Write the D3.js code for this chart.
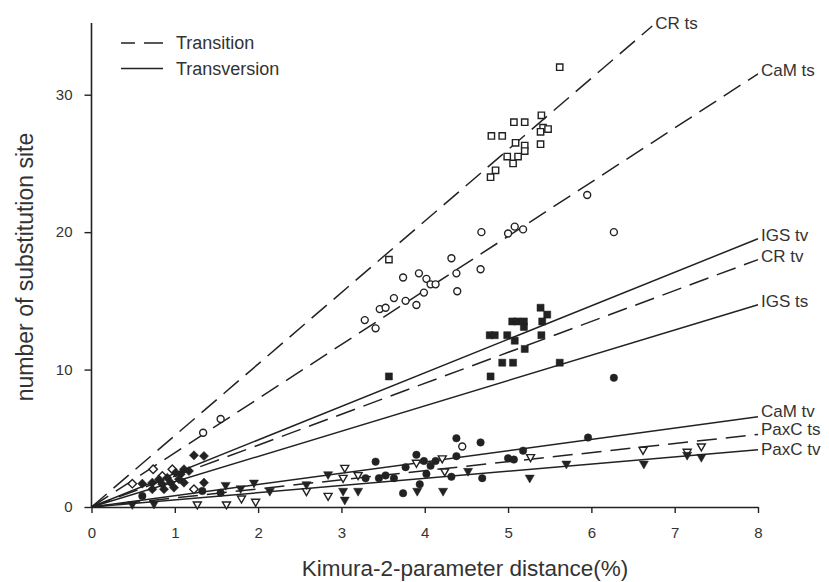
<!DOCTYPE html>
<html>
<head>
<meta charset="utf-8">
<script src="https://cdn.jsdelivr.net/npm/d3@7"></script>
<style>
  body { margin: 0; background: #fff; }
  svg { font-family: Arial, "Liberation Sans", sans-serif; }
</style>
</head>
<body>
<svg width="829" height="582"></svg>
<script>
// regression lines: name, slope (sites per % distance), dashed = transition
var lineNames  = ["CR ts", "CaM ts", "IGS tv", "CR tv", "IGS ts", "CaM tv", "PaxC ts", "PaxC tv"];
var lineSlopes = [5.2, 3.94, 2.44, 2.25, 1.84, 0.82, 0.66, 0.52];
var lineDashed = [true, true, false, true, false, false, true, false];

var xTicks = [0, 1, 2, 3, 4, 5, 6, 7, 8];
var yTicks = [0, 10, 20, 30];

// scatter points [distance, sites]
var crTs = [[5.62,32.0],[5.40,28.5],[5.07,28.0],[5.20,28.0],[4.80,27.0],[4.93,27.0],[5.42,27.6],[5.48,27.5],
  [5.39,27.3],[5.09,26.5],[5.20,26.3],[5.20,25.9],[5.39,26.4],[4.99,25.5],[5.12,25.5],[5.06,25.0],
  [4.85,24.5],[4.79,24.0],[3.57,18.0]];
var camTs = [[5.95,22.7],[6.27,20.0],[4.68,20.0],[5.00,19.9],[5.08,20.4],[5.18,20.2],[4.32,18.1],[4.67,17.3],
  [4.38,17.0],[4.39,15.7],[3.74,16.7],[3.93,17.0],[4.02,16.6],[4.07,16.2],[4.13,16.2],[3.99,15.6],
  [3.90,14.7],[3.77,15.0],[3.63,15.2],[3.46,14.4],[3.53,14.5],[3.28,13.6],[3.41,13.0],[1.55,6.4],
  [1.34,5.4],[4.45,4.4]];
var crTv = [[5.39,14.5],[5.47,14.0],[5.41,13.5],[5.05,13.5],[5.11,13.5],[5.19,13.5],[5.19,13.1],[4.78,12.5],
  [4.84,12.5],[4.99,12.5],[5.08,12.1],[5.40,12.5],[5.20,11.5],[4.93,10.5],[5.06,10.5],[5.62,10.5],
  [3.57,9.5],[4.79,9.5]];
var camTv = [[6.27,9.4],[4.38,5.0],[4.67,4.7],[3.90,3.8],[3.41,3.3],[3.99,3.35],[4.13,3.35],[4.07,3.0],
  [4.38,3.7],[3.77,2.9],[3.29,2.1],[3.45,2.1],[3.53,2.3],[3.63,2.1],[4.02,2.4],[3.94,1.65],[4.32,2.2],
  [4.69,2.1],[3.74,1.0],[5.96,5.05],[5.18,4.1],[5.00,3.55],[5.07,3.45],[1.55,1.04],[1.33,1.17],[0.61,0.8]];
var paxTs = [[3.04,2.86],[3.02,2.13],[3.20,2.33],[2.84,0.82],[3.90,3.23],[4.21,3.55],[4.24,2.6],[2.58,1.17],
  [5.27,3.64],[6.62,4.17],[7.15,4.03],[7.32,4.42],[1.27,0.2],[1.62,0.2],[1.80,0.63],[1.97,0.39]];
var paxTv = [[2.84,2.38],[2.58,1.65],[3.02,1.17],[3.04,0.53],[3.20,1.17],[3.91,1.17],[4.22,1.17],[4.52,2.62],
  [5.26,2.13],[5.70,3.15],[6.63,3.15],[7.15,3.79],[7.32,3.64],[0.49,0.2],[0.75,0.24],[1.61,1.6],
  [1.79,1.36],[1.95,1.77],[2.14,1.17]];
var igsTs = [[0.49,1.70],[0.74,2.75],[0.97,2.75],[0.85,2.26],[1.23,1.29]];
var igsTv = [[1.23,3.76],[1.35,3.71],[0.61,1.70],[0.73,1.77],[0.81,2.02],[0.91,2.13],[1.01,2.50],[1.11,2.75],
  [1.05,2.02],[0.73,1.29],[0.87,1.29],[0.99,1.41],[1.11,1.77],[1.35,1.77],[0.85,1.65],[0.95,1.77],
  [1.07,2.38],[1.17,2.62]];

var legendNames = ["Transition", "Transversion"];

var ink = "#222";
var svg = d3.select("svg");

var x = d3.scaleLinear().domain([0, 8]).range([91.5, 758]);
var y = d3.scaleLinear().domain([0, 35]).range([507, 26]);

// axes
var xAxis = svg.append("g")
    .attr("transform", "translate(0," + y(0) + ")")
    .call(d3.axisBottom(x).tickValues(xTicks).tickFormat(d3.format("d"))
      .tickSize(6).tickSizeOuter(0).tickPadding(14));
var yAxis = svg.append("g")
    .attr("transform", "translate(" + x(0) + ",0)")
    .call(d3.axisLeft(y).tickValues(yTicks).tickSize(7).tickSizeOuter(0).tickPadding(12));
[xAxis, yAxis].forEach(function(a) {
  a.select(".domain").attr("stroke", ink).attr("stroke-width", 1.6);
  a.selectAll(".tick line").attr("stroke", ink).attr("stroke-width", 1.4);
  a.selectAll(".tick text").attr("fill", "#333").style("font-size", "15px");
});
yAxis.select(".domain").attr("d", "M0," + y(0) + "V23");

// regression lines, labels sit at the right end (small nudges keep the bottom three apart)
var dash = "20,9";
var nudge = [0, 0, 0, 0, 0, -2.5, -1.5, 2.5];
lineNames.forEach(function(name, i) {
  var s = lineSlopes[i];
  var xEnd = Math.min(8, 35 / s);
  svg.append("line")
      .attr("x1", x(0)).attr("y1", y(0))
      .attr("x2", x(xEnd)).attr("y2", y(xEnd * s))
      .attr("stroke", ink).attr("stroke-width", 1.5)
      .attr("stroke-dasharray", lineDashed[i] ? dash : null);
  svg.append("text")
      .attr("x", x(xEnd) + 3)
      .attr("y", y(xEnd * s) - 3 + nudge[i])
      .attr("dominant-baseline", "central")
      .attr("fill", "#333")
      .style("font-size", "17px")
      .text(name);
});

// markers
function mark(data, type, size, filled, rot) {
  svg.append("g").selectAll("path")
    .data(data)
    .enter().append("path")
      .attr("d", d3.symbol().type(type).size(size))
      .attr("transform", d => "translate(" + x(d[0]) + "," + y(d[1]) + ") rotate(" + rot + ")")
      .attr("fill", filled ? ink : "#fff")
      .attr("stroke", ink)
      .attr("stroke-width", filled ? 0.5 : 1.4);
}
mark(crTs, d3.symbolSquare, 40, false, 0);
mark(camTs, d3.symbolCircle, 38, false, 0);
mark(crTv, d3.symbolSquare, 50, true, 0);
mark(camTv, d3.symbolCircle, 44, true, 0);
mark(igsTs, d3.symbolSquare, 36, false, 45);
mark(igsTv, d3.symbolSquare, 42, true, 45);
mark(paxTs, d3.symbolTriangle, 28, false, 180);
mark(paxTv, d3.symbolTriangle, 36, true, 180);

// legend
var legend = svg.append("g").selectAll("g")
  .data(legendNames)
  .enter().append("g")
    .attr("transform", (d, i) => "translate(0," + (43 + i * 25.5) + ")");
legend.append("line")
    .attr("x1", 121).attr("x2", 163)
    .attr("stroke", ink).attr("stroke-width", 1.5)
    .attr("stroke-dasharray", (d, i) => i === 0 ? dash : null)
    .attr("stroke-dashoffset", 6);
legend.append("text")
    .attr("x", 176)
    .attr("dominant-baseline", "central")
    .attr("fill", "#333")
    .style("font-size", "18px")
    .text(d => d);

// axis titles
svg.append("text")
    .attr("x", 465).attr("y", 576)
    .attr("text-anchor", "middle")
    .attr("fill", "#333")
    .style("font-size", "22.5px")
    .text("Kimura-2-parameter distance(%)");
svg.append("text")
    .attr("transform", "translate(33,267) rotate(-90)")
    .attr("text-anchor", "middle")
    .attr("fill", "#333")
    .style("font-size", "23px")
    .text("number of substitution site");
</script>
</body>
</html>
